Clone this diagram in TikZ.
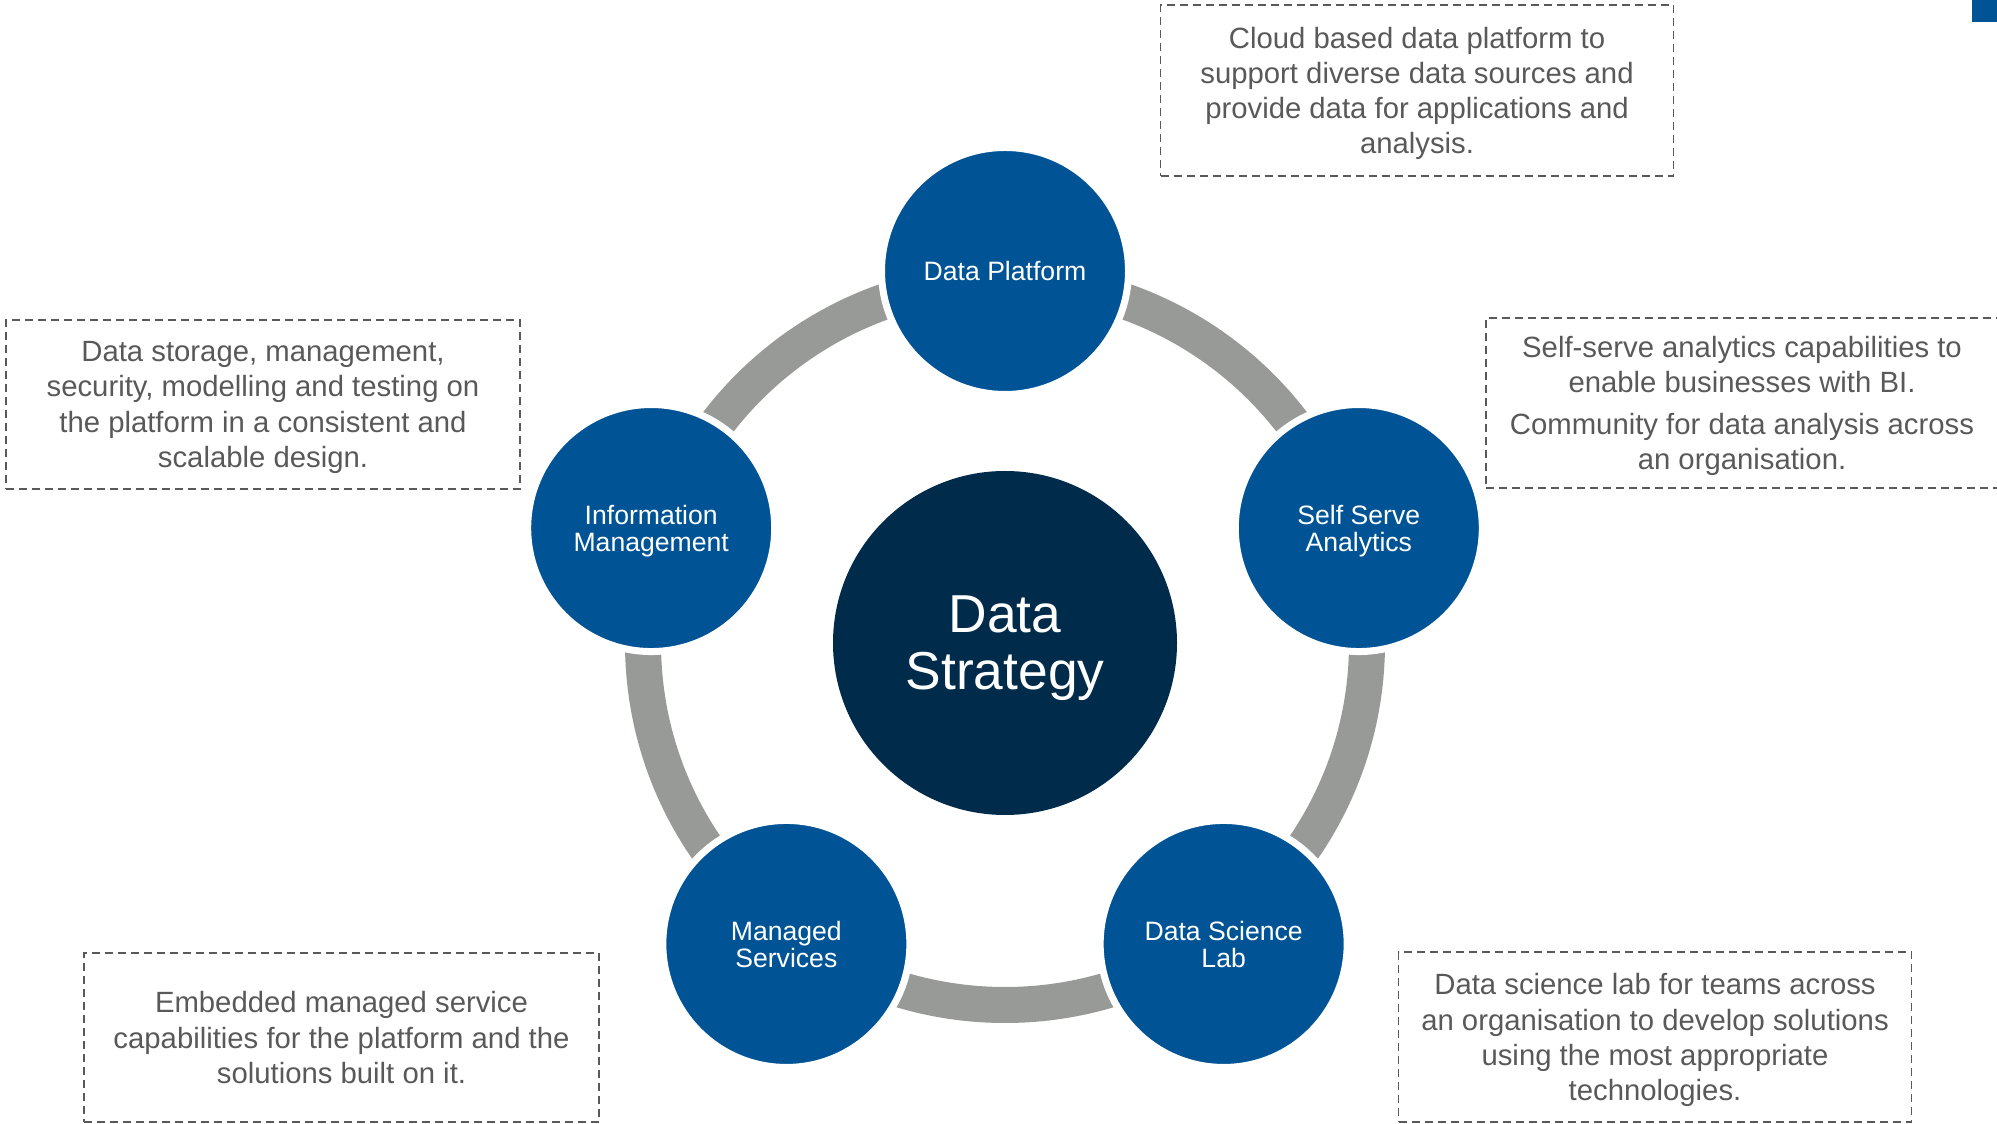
\documentclass[tikz,border=0pt]{standalone}
\usepackage{fontspec}
\setmainfont{Liberation Sans}
\definecolor{myblue}{RGB}{0,84,150}
\definecolor{mynavy}{RGB}{0,43,74}
\definecolor{mygray}{RGB}{152,154,151}
\definecolor{mytext}{RGB}{89,89,89}
\usetikzlibrary{calc}

\begin{document}
\begin{tikzpicture}[x=1pt,y=1pt]
	\tikzstyle{lan}=[circle,fill=myblue,draw=white,line width=7pt,minimum size=247pt,inner sep=0pt,text=white,align=center,text depth=0pt,font=\fontsize{26.6}{27}\selectfont];
	\tikzstyle{kuang}=[rectangle,draw=mytext,line width=1.8pt,dash pattern=on 8pt off 5pt,text=mytext,align=center,inner sep=0pt,text depth=0pt,font=\fontsize{29.3}{35.2}\selectfont];
	\useasboundingbox (0,0) rectangle (1997,1124);
	\fill[myblue] (1972,1102) rectangle (1997,1124);
	\coordinate (cen) at (1005,481);
	% ring behind the circles
	\draw[mygray,line width=36pt] (cen) circle (362);
	\node[circle,fill=mynavy,minimum size=344pt,inner sep=0pt,text=white,align=center,text depth=0pt,font=\fontsize{53.4}{57}\selectfont] (ds) at (cen) {Data\\Strategy};
	\node[lan] (dp)  at ($(cen)+(90:372)$)   {Data Platform};
	\node[lan] (ssa) at ($(cen)+(18:372)$)   {Self Serve\\Analytics};
	\node[lan] (dsl) at ($(cen)+(-54:372)$)  {Data Science\\Lab};
	\node[lan] (ms)  at ($(cen)+(-126:372)$) {Managed\\Services};
	\node[lan] (im)  at ($(cen)+(162:372)$)  {Information\\Management};
	% text boxes
	\node[kuang,minimum width=513pt,minimum height=171pt] (dpt) at (1417,1033.5) {Cloud based data platform to\\support diverse data sources and\\provide data for applications and\\analysis.};
	\node[kuang,minimum width=512pt,minimum height=170pt] (ssat) at (1742,721) {Self-serve analytics capabilities to\\enable businesses with BI.\\[7pt]Community for data analysis across\\an organisation.};
	\node[kuang,minimum width=513pt,minimum height=170pt] (dslt) at (1655,87) {Data science lab for teams across\\an organisation to develop solutions\\using the most appropriate\\technologies.};
	\node[kuang,minimum width=515pt,minimum height=169pt] (mst) at (341.5,86.5) {Embedded managed service\\capabilities for the platform and the\\solutions built on it.};
	\node[kuang,minimum width=514pt,minimum height=169pt] (imt) at (263,719.5) {Data storage, management,\\security, modelling and testing on\\the platform in a consistent and\\scalable design.};
\end{tikzpicture}
\end{document}
